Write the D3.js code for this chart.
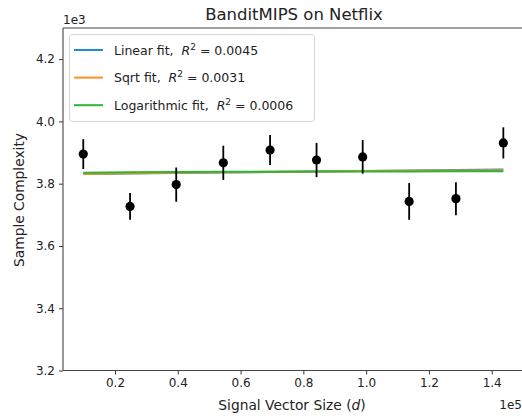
<!DOCTYPE html>
<html>
<head>
<meta charset="utf-8">
<script src="https://cdn.jsdelivr.net/npm/d3@7"></script>
<style>
  body { margin: 0; background: #fff; }
  svg { display: block; }
  text { font-family: "DejaVu Sans", sans-serif; fill: #222; white-space: pre; }
</style>
</head>
<body>
<svg id="chart" width="522" height="416"></svg>
<script>
// ---- data ----
const signalSize = [9900, 24800, 39500, 54500, 69400, 84200, 98900, 113700, 128600, 143700];
const sampleComplexity = [3895, 3727, 3797, 3867, 3908, 3876, 3886, 3743, 3752, 3931];
const errorHalf = [48, 43, 55, 55, 48, 55, 54, 59, 53, 50];
const yTicks = [3200, 3400, 3600, 3800, 4000, 4200];
const xTicks = [20000, 40000, 60000, 80000, 100000, 120000, 140000];
const fitNames = ["Linear fit,  ", "Sqrt fit,  ", "Logarithmic fit,  "];
const fitR2 = ["0.0045", "0.0031", "0.0006"];
const fitColors = ["#1b8fd2", "#ff8f1f", "#2ab534"];

// ---- layout ----
const svg = d3.select("#chart");
const L = 63, R = 525, T = 28, B = 370.5;
const x = d3.scaleLinear().domain([3440, 150600]).range([L, R]);
const y = d3.scaleLinear().domain([3200, 4300]).range([B, T]);

// ---- fits ----
const transforms = [v => v, v => Math.sqrt(v), v => Math.log(v)];
function fit(f) {
  const fx = signalSize.map(f);
  const mx = d3.mean(fx), my = d3.mean(sampleComplexity);
  let sxy = 0, sxx = 0;
  fx.forEach((v, i) => { sxy += (v - mx) * (sampleComplexity[i] - my); sxx += (v - mx) * (v - mx); });
  const b = sxy / sxx, a = my - b * mx;
  return v => a + b * f(v);
}
const fits = transforms.map(fit);
const g = svg.append("g");
fits.forEach((fn, k) => {
  g.append("path")
    .datum(signalSize)
    .attr("fill", "none")
    .attr("stroke", fitColors[k])
    .attr("stroke-width", 2)
    .attr("d", d3.line().x(d => x(d)).y(d => y(fn(d))));
});

// ---- error bars & points ----
signalSize.forEach((d, i) => {
  g.append("line")
    .attr("x1", x(d)).attr("x2", x(d))
    .attr("y1", y(sampleComplexity[i] - errorHalf[i]))
    .attr("y2", y(sampleComplexity[i] + errorHalf[i]))
    .attr("stroke", "#000").attr("stroke-width", 1.8);
});
g.selectAll("circle.pt").data(signalSize).enter().append("circle")
  .attr("class", "pt")
  .attr("cx", d => x(d))
  .attr("cy", (d, i) => y(sampleComplexity[i]))
  .attr("r", 4.6)
  .attr("fill", "#000");

// ---- axes ----
const xAxis = d3.axisBottom(x).tickValues(xTicks).tickSize(4).tickPadding(4)
  .tickFormat(d => (d / 1e5).toFixed(1));
const yAxis = d3.axisLeft(y).tickValues(yTicks).tickSize(4).tickPadding(4)
  .tickFormat(d => (d / 1e3).toFixed(1));
const gx = svg.append("g").attr("transform", `translate(0,${B})`).call(xAxis);
const gy = svg.append("g").attr("transform", `translate(${L},0)`).call(yAxis);
[gx, gy].forEach(a => {
  a.select(".domain").remove();
  a.selectAll(".tick line").attr("stroke", "#333").attr("stroke-width", 1);
  a.selectAll(".tick text").attr("font-size", 12).attr("fill", "#222")
    .style("font-family", "DejaVu Sans, sans-serif");
});
// spines
svg.append("line").attr("x1", L).attr("x2", L).attr("y1", T).attr("y2", B).attr("stroke", "#444").attr("stroke-width", 1.1);
svg.append("line").attr("x1", L).attr("x2", R).attr("y1", B).attr("y2", B).attr("stroke", "#444").attr("stroke-width", 1.1);
svg.append("line").attr("x1", L).attr("x2", R).attr("y1", T).attr("y2", T).attr("stroke", "#444").attr("stroke-width", 1.1);

// offsets
svg.append("text").attr("x", 63).attr("y", 24).attr("font-size", 12).text("1e3");
svg.append("text").attr("x", 522).attr("y", 409).attr("text-anchor", "end").attr("font-size", 12).text("1e5");

// title & labels
svg.append("text").attr("x", 294).attr("y", 19.5).attr("text-anchor", "middle").attr("font-size", 16.5)
  .text("BanditMIPS on Netflix");
svg.append("text").attr("transform", "translate(24,200) rotate(-90)").attr("text-anchor", "middle")
  .attr("font-size", 13.8).text("Sample Complexity");
const xl = svg.append("text").attr("x", 292).attr("y", 410).attr("text-anchor", "middle").attr("font-size", 13.8);
xl.append("tspan").text("Signal Vector Size (");
xl.append("tspan").attr("font-style", "italic").text("d");
xl.append("tspan").text(")");

// ---- legend ----
const lg = svg.append("g");
lg.append("rect").attr("x", 69.5).attr("y", 34.5).attr("width", 245).attr("height", 87).attr("rx", 3)
  .attr("fill", "#fff").attr("fill-opacity", 0.85).attr("stroke", "#d5d5d5");
fitNames.forEach((name, k) => {
  const ly = 50 + k * 27.6;
  lg.append("line").attr("x1", 74).attr("x2", 103).attr("y1", ly).attr("y2", ly)
    .attr("stroke", fitColors[k]).attr("stroke-width", 2);
  const t = lg.append("text").attr("x", 114).attr("y", ly + 4.7).attr("font-size", 12.5);
  t.append("tspan").text(name);
  t.append("tspan").attr("font-style", "italic").text("R");
  t.append("tspan").attr("font-size", 9).attr("dy", -5).text("2");
  t.append("tspan").attr("dy", 5).text(" = " + fitR2[k]);
});
</script>
</body>
</html>
